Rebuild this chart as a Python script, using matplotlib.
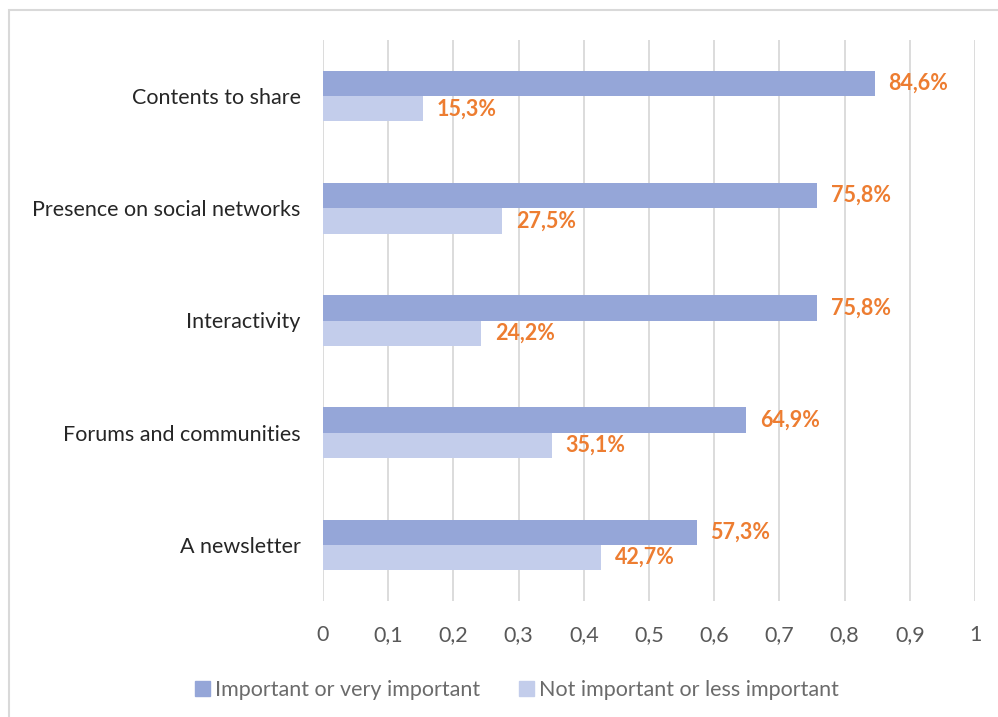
import matplotlib
matplotlib.use("Agg")
import matplotlib.pyplot as plt
import matplotlib.patches as mpatches
import numpy as np

categories = ["Contents to share", "Presence on social networks", "Interactivity",
              "Forums and communities", "A newsletter"]
important = [0.846, 0.758, 0.758, 0.649, 0.573]
not_important = [0.153, 0.275, 0.242, 0.351, 0.427]
important_labels = ["84,6%", "75,8%", "75,8%", "64,9%", "57,3%"]
not_important_labels = ["15,3%", "27,5%", "24,2%", "35,1%", "42,7%"]
xticks = [0, 0.1, 0.2, 0.3, 0.4, 0.5, 0.6, 0.7, 0.8, 0.9, 1]
xtick_labels = ["0", "0,1", "0,2", "0,3", "0,4", "0,5", "0,6", "0,7", "0,8", "0,9", "1"]
series_names = ["Important or very important", "Not important or less important"]

plt.rcParams['font.family'] = ['Lato', 'DejaVu Sans']

W, H = 998, 717
fig = plt.figure(figsize=(W / 100, H / 100), dpi=100)
ax = fig.add_axes([323 / W, 1 - 601 / H, (975 - 323) / W, (601 - 40) / H])

# outer border
fig.patches.append(mpatches.Rectangle((9 / W, -0.01), 1.0, 1 - 10 / H + 0.01,
                                      transform=fig.transFigure, fill=False,
                                      edgecolor="#d9d9d9", linewidth=1.5))

y = np.arange(len(categories))
h = 0.225
c_dark = "#95a6d8"
c_light = "#c3cdeb"
ax.barh(y - h / 2, important, height=h, color=c_dark, zorder=3)
ax.barh(y + h / 2, not_important, height=h, color=c_light, zorder=3)

fs = 15.5
for yi, v, lab in zip(y, important, important_labels):
    ax.annotate(lab, (v, yi - h / 2), xytext=(10, 0), textcoords="offset points",
                va="center", ha="left", color="#ED7D31", fontweight="bold", fontsize=fs)
for yi, v, lab in zip(y, not_important, not_important_labels):
    ax.annotate(lab, (v, yi + h / 2), xytext=(10, 0), textcoords="offset points",
                va="center", ha="left", color="#ED7D31", fontweight="bold", fontsize=fs)

ax.set_xlim(0, 1)
ax.set_ylim(len(categories) - 0.5, -0.5)
ax.set_xticks(xticks)
ax.set_xticklabels(xtick_labels, color="#595959", fontsize=fs)
ax.set_yticks(y)
ax.set_yticklabels(categories, color="#262626", fontsize=fs)
ax.tick_params(axis="both", length=0)
ax.tick_params(axis="x", pad=17)
ax.tick_params(axis="y", pad=16)
ax.grid(axis="x", color="#d9d9d9", linewidth=1.3, zorder=0)
for s in ax.spines.values():
    s.set_visible(False)

handles = [mpatches.Patch(color=c_dark), mpatches.Patch(color=c_light)]
leg = fig.legend(handles, series_names, loc="center", bbox_to_anchor=(517 / W, 1 - 690 / H),
                 ncol=2, frameon=False, fontsize=fs, handlelength=0.7, handleheight=0.7,
                 handletextpad=0.25, columnspacing=1.8)
for t in leg.get_texts():
    t.set_color("#6b6b6b")

fig.savefig("out.png", dpi=100)
